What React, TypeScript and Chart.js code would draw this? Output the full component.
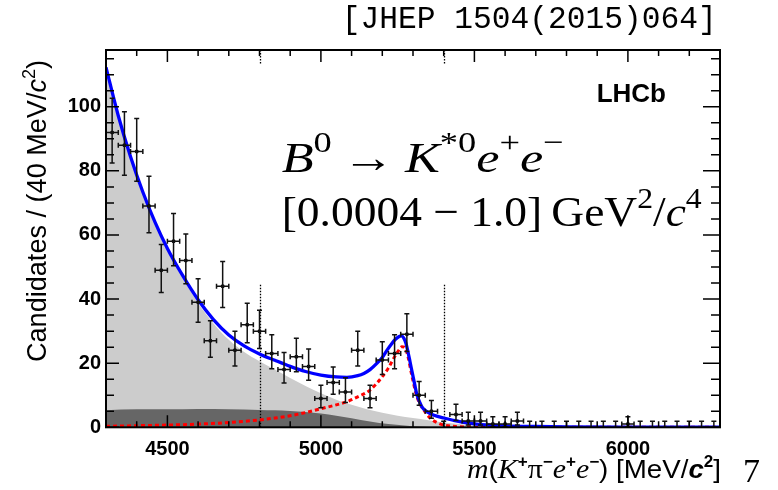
import React, { useEffect, useRef } from "react";
import { Chart, registerables } from "chart.js";

Chart.register(...registerables);

const SANS = "'Liberation Sans', Arial, Helvetica, sans-serif";
const SERIF = "'Liberation Serif', 'Times New Roman', serif";
const MONO = "'Liberation Mono', 'Courier New', monospace";

// ---- axis ranges and ticks ----
const xMin = 4300;
const xMax = 6300;
const yMin = 0;
const yMax = 117.7;
const xMajorTicks = [4500, 5000, 5500, 6000];
const yMajorTicks = [0, 20, 40, 60, 80, 100];
const xMinorStep = 100;
const yMinorStep = 5;
const binHalfWidth = 20;
const windowLines = [4800, 5400];
const windowLineTop = 44.7;
const windowStubBottom = 113.1;

// ---- data histogram (40 MeV bins) ----
const binCenters = [
  4320, 4360, 4400, 4440, 4480, 4520, 4560, 4600, 4640, 4680,
  4720, 4760, 4800, 4840, 4880, 4920, 4960, 5000, 5040, 5080,
  5120, 5160, 5200, 5240, 5280, 5320, 5360, 5400, 5440, 5480,
  5520, 5560, 5600, 5640, 5680, 5720, 5760, 5800, 5840, 5880,
  5920, 5960, 6000, 6040, 6080, 6120, 6160, 6200, 6240, 6280,
];
const counts = [
  92, 88, 86, 69, 49, 58, 52, 39, 27, 44,
  24, 32, 30, 23, 18, 22, 19, 9, 14, 11,
  24, 9, 21, 23, 29, 10, 5, 0, 4, 2,
  2, 1, 1, 2, 0, 0, 0, 0, 0, 0,
  0, 0, 1, 0, 0, 0, 0, 0, 0, 0,
];

// ---- total fit (blue) ----
const totalMass = [
  4300, 4340, 4380, 4420, 4460, 4500, 4550, 4600, 4650, 4700,
  4750, 4800, 4850, 4900, 4950, 5000, 5050, 5085, 5120, 5140,
  5160, 5183, 5200, 5215, 5230, 5242, 5255, 5262, 5270, 5277,
  5283, 5290, 5297, 5305, 5313, 5322, 5330, 5345, 5360, 5380,
  5400, 5430, 5460, 5500, 5550, 5600, 5700, 5800, 6000, 6300,
];
const totalValues = [
  112.3, 97.2, 84.4, 73.4, 63.9, 55.8, 47.3, 39.8, 33.6, 28.8,
  25.4, 22.9, 20.9, 19.0, 17.4, 16.3, 15.7, 15.6, 16.1, 16.8,
  18.0, 20.0, 21.8, 24.0, 26.0, 27.4, 28.3, 28.5, 27.8, 26.2,
  23.8, 20.6, 17.3, 13.6, 10.1, 7.8, 6.2, 4.9, 4.1, 3.4,
  2.9, 2.2, 1.6, 1.1, 0.7, 0.45, 0.25, 0.15, 0.08, 0.05,
];

// ---- signal (red dotted) ----
const signalMass = [
  4300, 4400, 4500, 4600, 4700, 4800, 4850, 4900, 4950, 5000,
  5050, 5085, 5120, 5160, 5200, 5220, 5237, 5250, 5264, 5272,
  5281, 5297, 5313, 5335, 5357, 5380, 5400, 5444, 5500, 5600, 6300,
];
const signalValues = [
  0.3, 0.5, 0.7, 1.0, 1.5, 2.3, 2.9, 3.6, 4.6, 5.8,
  7.0, 8.0, 9.5, 11.6, 15.8, 18.5, 21.5, 23.5, 25.1, 25.0,
  23.1, 15.8, 9.5, 5.4, 2.8, 1.4, 0.7, 0.2, 0.05, 0.02, 0,
];

// ---- total background (light grey) ----
const bkgMass = [
  4300, 4340, 4380, 4420, 4460, 4500, 4550, 4600, 4650, 4700,
  4750, 4800, 4850, 4900, 4950, 5000, 5050, 5100, 5150, 5200,
  5250, 5300, 5350, 5400, 5450, 5500, 5550, 5600, 5700, 5800, 6300,
];
const bkgValues = [
  112.0, 96.8, 84.0, 72.9, 63.3, 55.1, 46.5, 38.8, 32.4, 27.3,
  23.5, 20.6, 18.0, 15.4, 12.9, 10.6, 8.6, 7.0, 5.6, 4.5,
  3.6, 2.9, 2.2, 1.5, 1.0, 0.6, 0.35, 0.2, 0.05, 0, 0,
];

// ---- second background component (dark grey) ----
const combMass = [
  4300, 4400, 4500, 4600, 4700, 4800, 4850, 4900, 4950, 5000,
  5050, 5100, 5160, 5220, 5290, 5350, 5400, 6300,
];
const combValues = [
  5.3, 5.6, 5.6, 5.7, 5.6, 5.4, 5.3, 5.1, 4.8, 4.3,
  3.6, 2.8, 1.8, 1.0, 0.4, 0.1, 0, 0,
];

const pts = (xs: number[], ys: number[]) => xs.map((x, i) => ({ x, y: ys[i] }));

function poissonUp(n: number) {
  return Math.sqrt(n + 0.75) + 1;
}
function poissonLow(n: number) {
  if (n <= 0) return 0;
  const f = 1 - 1 / (9 * n) - 1 / (3 * Math.sqrt(n));
  return n - n * f * f * f;
}

type Seg = { t: string; f: string; dy?: number };

function drawRich(ctx: CanvasRenderingContext2D, segs: Seg[], x: number, y: number, targetW?: number) {
  let w = 0;
  for (const s of segs) {
    ctx.font = s.f;
    w += ctx.measureText(s.t).width;
  }
  const sx = targetW ? targetW / w : 1;
  ctx.save();
  ctx.translate(x, y);
  ctx.scale(sx, 1);
  ctx.textAlign = "left";
  ctx.textBaseline = "alphabetic";
  let cx = 0;
  for (const s of segs) {
    ctx.font = s.f;
    ctx.fillText(s.t, cx, s.dy || 0);
    cx += ctx.measureText(s.t).width;
  }
  ctx.restore();
}

const S1 = 43;
const it1 = `italic ${S1}px ${SERIF}`;
const rm1 = `${S1}px ${SERIF}`;
const sup1 = `${Math.round(S1 * 0.7)}px ${SERIF}`;
const decayLine: Seg[] = [
  { t: "B", f: it1 },
  { t: "0", f: sup1, dy: -20 },
  { t: "\u2009\u2192\u2009", f: rm1 },
  { t: "K", f: it1 },
  { t: "*0", f: sup1, dy: -20 },
  { t: "e", f: it1 },
  { t: "+", f: sup1, dy: -20 },
  { t: "e", f: it1 },
  { t: "\u2212", f: sup1, dy: -20 },
];
const rangeLine: Seg[] = [
  { t: "[0.0004 \u2212 1.0]\u2009GeV", f: rm1 },
  { t: "2", f: sup1, dy: -18 },
  { t: "/", f: rm1 },
  { t: "c", f: it1 },
  { t: "4", f: sup1, dy: -18 },
];
const itX = `italic 28px ${SERIF}`;
const supX = `bold 16px ${SANS}`;
const xTitle: Seg[] = [
  { t: "m", f: itX },
  { t: "(", f: `26px ${SANS}` },
  { t: "K", f: itX },
  { t: "+", f: supX, dy: -11 },
  { t: "\u03c0", f: `28px ${SERIF}` },
  { t: "\u2212", f: supX, dy: -11 },
  { t: "e", f: itX },
  { t: "+", f: supX, dy: -11 },
  { t: "e", f: itX },
  { t: "\u2212", f: supX, dy: -11 },
  { t: ")", f: `26px ${SANS}` },
  { t: " [MeV/", f: `26px ${SANS}` },
  { t: "c", f: `italic bold 26px ${SANS}` },
  { t: "2", f: supX, dy: -11 },
  { t: "]", f: `26px ${SANS}` },
];
const yTitle: Seg[] = [
  { t: "Candidates / (40 MeV/", f: `27px ${SANS}` },
  { t: "c", f: `italic 27px ${SANS}` },
  { t: "2", f: `18px ${SANS}`, dy: -11 },
  { t: ")", f: `27px ${SANS}` },
];

const overlayPlugin = {
  id: "overlay",
  beforeDatasetDraw(chart: any, args: any) {
    if (args.index !== 2) return;
    const { ctx } = chart;
    const xs = chart.scales.x;
    const ys = chart.scales.y;
    ctx.save();
    ctx.strokeStyle = "#000";
    ctx.lineWidth = 1.3;
    ctx.setLineDash([1.5, 1.5]);
    for (const m of windowLines) {
      const px = Math.round(xs.getPixelForValue(m)) + 0.5;
      ctx.beginPath();
      ctx.moveTo(px, ys.getPixelForValue(0));
      ctx.lineTo(px, ys.getPixelForValue(windowLineTop));
      ctx.stroke();
      ctx.beginPath();
      ctx.moveTo(px, ys.getPixelForValue(yMax));
      ctx.lineTo(px, ys.getPixelForValue(windowStubBottom));
      ctx.stroke();
    }
    ctx.restore();
  },
  afterDatasetsDraw(chart: any) {
    const { ctx } = chart;
    const xs = chart.scales.x;
    const ys = chart.scales.y;
    ctx.save();
    ctx.strokeStyle = "#111";
    ctx.lineWidth = 1.5;
    const cap = 2.5;
    binCenters.forEach((c, i) => {
      const n = counts[i];
      const px = xs.getPixelForValue(c);
      const py = ys.getPixelForValue(n);
      const yTop = ys.getPixelForValue(n + poissonUp(n));
      const yBot = ys.getPixelForValue(n - poissonLow(n));
      ctx.beginPath();
      ctx.moveTo(px, yBot);
      ctx.lineTo(px, yTop);
      ctx.moveTo(px - cap, yTop);
      ctx.lineTo(px + cap, yTop);
      if (n > 0) {
        ctx.moveTo(px - cap, yBot);
        ctx.lineTo(px + cap, yBot);
        const xl = xs.getPixelForValue(c - binHalfWidth);
        const xr = xs.getPixelForValue(c + binHalfWidth);
        ctx.moveTo(xl, py);
        ctx.lineTo(xr, py);
        ctx.moveTo(xl, py - cap);
        ctx.lineTo(xl, py + cap);
        ctx.moveTo(xr, py - cap);
        ctx.lineTo(xr, py + cap);
      }
      ctx.stroke();
    });
    ctx.restore();
  },
  afterDraw(chart: any) {
    const { ctx, chartArea: a } = chart;
    const xs = chart.scales.x;
    const ys = chart.scales.y;
    ctx.save();
    ctx.strokeStyle = "#000";
    ctx.fillStyle = "#000";
    // ticks
    ctx.lineWidth = 1.5;
    ctx.beginPath();
    for (let v = xMin; v <= xMax; v += xMinorStep) {
      const major = xMajorTicks.includes(v);
      const len = major ? 12 : 6;
      const px = xs.getPixelForValue(v);
      ctx.moveTo(px, a.bottom);
      ctx.lineTo(px, a.bottom - len);
      ctx.moveTo(px, a.top);
      ctx.lineTo(px, a.top + len);
    }
    for (let v = yMin; v <= yMax; v += yMinorStep) {
      const major = yMajorTicks.includes(v);
      const py = ys.getPixelForValue(v);
      ctx.moveTo(a.left, py);
      ctx.lineTo(a.left + (major ? 13 : 8), py);
      ctx.moveTo(a.right, py);
      ctx.lineTo(a.right - (major ? 17 : 9), py);
    }
    ctx.stroke();
    // frame
    ctx.lineWidth = 2;
    ctx.strokeRect(a.left, a.top, a.right - a.left, a.bottom - a.top);

    // texts
    drawRich(ctx, [{ t: "[JHEP 1504(2015)064]", f: `31px ${MONO}` }], 341.7, 28, 375);
    ctx.font = `bold 26px ${SANS}`;
    ctx.textAlign = "right";
    ctx.textBaseline = "alphabetic";
    ctx.fillText("LHCb", 666, 102);
    drawRich(ctx, decayLine, 281.7, 172, 282);
    drawRich(ctx, rangeLine, 281.7, 226, 420);
    drawRich(ctx, xTitle, 467, 478, 254);
    ctx.save();
    ctx.translate(46, 362);
    ctx.rotate(-Math.PI / 2);
    drawRich(ctx, yTitle, 0, 0, 302);
    ctx.restore();
    ctx.font = `34px ${SERIF}`;
    ctx.textAlign = "left";
    ctx.fillText("7", 743, 482);
    ctx.restore();
  },
};

export default function App() {
  const ref = useRef<HTMLCanvasElement>(null);
  useEffect(() => {
    const canvas = ref.current;
    if (!canvas) return;
    const chart = new Chart(canvas, {
      type: "scatter",
      data: {
        datasets: [
          {
            label: "Data",
            data: pts(binCenters, counts),
            showLine: false,
            pointRadius: (c: any) => (counts[c.dataIndex] > 0 ? 2 : 0),
            pointBackgroundColor: "#000",
            pointBorderWidth: 0,
          } as any,
          {
            type: "line",
            label: "Total fit",
            data: pts(totalMass, totalValues),
            borderColor: "#0000ff",
            borderWidth: 3.3,
            pointRadius: 0,
            fill: false,
            cubicInterpolationMode: "monotone",
          },
          {
            type: "line",
            label: "Signal",
            data: pts(signalMass, signalValues),
            borderColor: "#ff0000",
            borderWidth: 3,
            borderDash: [4, 3],
            pointRadius: 0,
            fill: false,
            cubicInterpolationMode: "monotone",
          },
          {
            type: "line",
            label: "Background 2",
            data: pts(combMass, combValues),
            borderWidth: 0,
            backgroundColor: "#666666",
            pointRadius: 0,
            fill: "origin",
            cubicInterpolationMode: "monotone",
          },
          {
            type: "line",
            label: "Background 1",
            data: pts(bkgMass, bkgValues),
            borderWidth: 0,
            backgroundColor: "#cccccc",
            pointRadius: 0,
            fill: "origin",
            cubicInterpolationMode: "monotone",
          },
        ],
      } as any,
      options: {
        animation: false,
        responsive: false,
        events: [],
        layout: { padding: { left: 0, right: 58, top: 50, bottom: 0 } },
        plugins: { legend: { display: false }, tooltip: { enabled: false }, title: { display: false } },
        scales: {
          x: {
            type: "linear",
            min: xMin,
            max: xMax,
            grid: { display: false, drawTicks: false },
            border: { display: false },
            ticks: {
              color: "#000",
              font: { family: SANS, size: 20, weight: "bold" },
              padding: 10,
              maxRotation: 0,
              autoSkip: false,
              callback: (v: any) => String(v),
            },
            afterBuildTicks: (s: any) => {
              s.ticks = xMajorTicks.map((v) => ({ value: v }));
            },
            afterFit: (s: any) => {
              s.height = 490 - 427.3;
              s.paddingLeft = 0;
              s.paddingRight = 0;
            },
          },
          y: {
            type: "linear",
            min: yMin,
            max: yMax,
            grid: { display: false, drawTicks: false },
            border: { display: false },
            ticks: {
              color: "#000",
              font: { family: SANS, size: 20, weight: "bold" },
              padding: 5,
              autoSkip: false,
              callback: (v: any) => String(v),
            },
            afterBuildTicks: (s: any) => {
              s.ticks = yMajorTicks.map((v) => ({ value: v }));
            },
            afterFit: (s: any) => {
              s.width = 106;
              s.paddingTop = 0;
              s.paddingBottom = 0;
            },
          },
        },
      } as any,
      plugins: [overlayPlugin],
    });
    return () => chart.destroy();
  }, []);
  return (
    <div style={{ position: "fixed", left: 0, top: 0, width: 778, height: 490, background: "#fff" }}>
      <canvas ref={ref} width={778} height={490} style={{ display: "block" }} />
    </div>
  );
}
